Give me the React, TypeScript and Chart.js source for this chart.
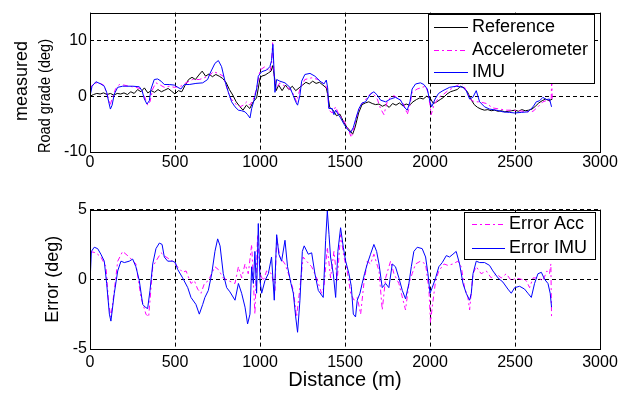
import React, { useEffect, useRef } from 'react';
import { Chart, registerables } from 'chart.js';

Chart.register(...registerables);

const FONT = "'Liberation Sans', Arial, Helvetica, sans-serif";

// ---------- axes ----------
const distRange = [0, 3000];
const distTicks = [0, 500, 1000, 1500, 2000, 2500, 3000];
const gradeRange = [-10, 15];
const gradeTicks = [-10, 0, 10];
const errorRange = [-5, 5];
const errorTicks = [-5, 0, 5];

// ---------- top plot: road grade (deg) ----------
const refDist = [0, 20, 40, 60, 80, 100, 120, 140, 160, 180, 200, 220, 240, 260, 280, 300, 320, 340, 360, 380, 400, 420, 440, 460, 480, 500, 520, 540, 560, 580, 600, 620, 640, 660, 680, 700, 720, 740, 760, 780, 800, 820, 840, 860, 880, 900, 920, 940, 960, 980, 1000, 1010, 1030, 1050, 1065, 1075, 1085, 1095, 1110, 1130, 1150, 1170, 1190, 1210, 1230, 1250, 1270, 1290, 1310, 1330, 1350, 1370, 1390, 1400, 1410, 1430, 1450, 1470, 1490, 1510, 1530, 1545, 1560, 1580, 1600, 1620, 1640, 1660, 1680, 1700, 1720, 1740, 1760, 1780, 1800, 1820, 1840, 1860, 1880, 1900, 1920, 1940, 1960, 1980, 2000, 2020, 2040, 2060, 2080, 2100, 2120, 2140, 2160, 2180, 2200, 2220, 2240, 2260, 2280, 2300, 2320, 2340, 2360, 2380, 2400, 2420, 2440, 2460, 2480, 2500, 2520, 2540, 2560, 2580, 2600, 2620, 2640, 2660, 2680, 2700, 2720];
const refGrade = [0, 0.3, 0.5, 0.4, 0.6, 0.3, 0.5, 0.2, 0.5, 0.4, 0.6, 0.3, 0.8, 0.5, 1.2, 0.8, 1.5, 0.6, 1.0, 0.7, 1.2, 0.8, 1.1, 1.4, 0.9, 0.4, 1.0, 0.8, 2.0, 3.0, 3.4, 3.0, 3.8, 4.5, 3.6, 4.0, 3.5, 3.9, 3.6, 3.2, 2.5, 1.2, 0.2, -1.0, -1.8, -2.5, -1.6, -2.2, -1.0, -0.3, 3.2, 3.6, 3.8, 4.2, 4.5, 5.5, 3.5, 1.0, 2.0, 1.0, 2.0, 1.2, 1.8, 1.0, 1.5, 2.0, 2.5, 2.2, 2.7, 2.3, 2.5, 2.0, 1.5, 0.0, -2.0, -2.5, -3.5, -3.2, -4.5, -5.5, -6.2, -6.8, -5.5, -3.0, -1.5, -1.2, -1.0, -1.3, -1.5, -1.4, -1.8, -1.5, -2.0, -1.3, -1.6, -1.2, -1.7, -1.4, -1.6, -1.0, -0.6, -0.3, -0.5, 0.0, -0.3, -1.3, -1.0, -0.6, -0.2, 0.4, 0.8, 1.0, 1.2, 1.8, 1.5, 0.8, -0.5, -1.5, -2.0, -2.3, -2.5, -2.4, -2.6, -2.5, -2.7, -2.6, -2.8, -2.7, -2.6, -2.5, -2.7, -2.4, -2.6, -2.5, -2.3, -1.8, -1.2, -0.8, -0.5, -0.8, -0.5];

const accDist = [0, 20, 40, 60, 80, 100, 118, 133, 150, 172, 200, 230, 270, 300, 320, 339, 353, 369, 388, 408, 437, 466, 496, 535, 564, 604, 643, 672, 692, 706, 725, 755, 784, 804, 823, 853, 882, 902, 922, 941, 961, 980, 1000, 1029, 1058, 1068, 1074, 1082, 1092, 1117, 1147, 1176, 1196, 1215, 1235, 1264, 1304, 1343, 1382, 1396, 1405, 1425, 1445, 1464, 1484, 1504, 1523, 1537, 1553, 1572, 1592, 1611, 1631, 1660, 1690, 1709, 1729, 1748, 1768, 1788, 1817, 1837, 1856, 1866, 1882, 1895, 1925, 1954, 1974, 1988, 2000, 2007, 2023, 2052, 2082, 2105, 2135, 2165, 2184, 2203, 2223, 2243, 2262, 2292, 2331, 2370, 2409, 2449, 2488, 2527, 2566, 2606, 2635, 2664, 2694, 2707, 2713, 2716, 2719];
const accGrade = [1.3, 2.3, 2.4, 2.3, 2.0, 0.5, -1.6, -0.2, 1.3, 2.1, 2.0, 1.8, 1.6, 1.3, 0.0, -1.6, -1.0, 1.3, 2.4, 2.1, 1.6, 1.8, 1.6, 1.8, 2.4, 3.0, 3.0, 3.3, 3.6, 3.8, 4.4, 4.1, 3.6, 1.6, -0.2, -1.3, -1.9, -1.6, -1.0, -1.6, -0.5, 1.3, 4.7, 5.3, 4.4, 5.9, 9.6, 4.0, 1.3, 2.4, 1.8, 1.3, 0.4, -1.0, 1.3, 3.0, 3.3, 3.0, 2.1, 1.3, -2.5, -3.0, -1.9, -3.3, -3.9, -5.0, -6.2, -7.4, -5.6, -3.3, -1.6, -1.0, -0.2, 0.7, -0.5, -2.2, -3.3, -1.0, -0.2, 0.1, -0.5, -1.0, -2.2, -3.3, -1.6, 0.7, 1.3, 1.6, 1.8, 0.7, -1.6, -3.3, -1.6, -0.2, 0.4, 1.0, 1.5, 2.0, 2.4, 1.6, 0.4, -0.7, -1.0, -1.0, -1.3, -2.1, -2.3, -2.5, -2.5, -2.6, -2.8, -2.7, -1.9, -1.0, -0.7, -1.0, -0.5, 3.5, -0.5];

const imuDist = [0, 12, 35, 64, 84, 98, 110, 120, 130, 143, 163, 192, 251, 290, 306, 320, 335, 349, 359, 378, 398, 418, 437, 466, 496, 516, 535, 555, 584, 623, 663, 692, 706, 735, 755, 774, 794, 814, 833, 853, 873, 892, 912, 927, 941, 951, 967, 980, 990, 1010, 1039, 1058, 1068, 1076, 1082, 1088, 1098, 1117, 1147, 1176, 1196, 1210, 1221, 1235, 1245, 1264, 1294, 1323, 1353, 1376, 1390, 1398, 1405, 1425, 1435, 1445, 1455, 1474, 1494, 1513, 1533, 1549, 1562, 1582, 1601, 1621, 1650, 1670, 1690, 1709, 1739, 1768, 1797, 1827, 1847, 1866, 1882, 1895, 1915, 1944, 1964, 1984, 2000, 2010, 2030, 2050, 2076, 2115, 2154, 2194, 2213, 2233, 2252, 2272, 2292, 2321, 2350, 2390, 2429, 2468, 2498, 2537, 2576, 2606, 2625, 2645, 2664, 2684, 2703, 2715];
const imuGrade = [0, 1.8, 2.6, 2.2, 1.8, 0.7, -1.0, -2.3, -1.6, 0.4, 1.6, 1.8, 1.8, 1.7, 1.0, -0.5, -1.4, -0.8, 1.3, 3.0, 3.1, 2.7, 2.1, 2.1, 2.0, 1.6, 1.3, 2.1, 2.1, 2.3, 2.4, 3.0, 4.1, 5.9, 6.4, 5.3, 2.7, 0.7, -1.0, -1.9, -2.5, -2.6, -2.8, -3.3, -3.9, -2.2, -0.5, 1.3, 3.6, 4.4, 4.7, 5.3, 6.4, 9.3, 5.0, 0.7, 3.0, 2.7, 2.4, 1.6, 0.1, -1.0, -1.6, 0.2, 2.7, 3.9, 4.1, 3.6, 2.7, 2.2, 2.9, 1.5, -2.2, -2.2, -3.3, -2.5, -3.0, -3.9, -5.0, -5.9, -6.5, -5.6, -4.2, -2.2, -1.2, -1.0, 0.4, 0.8, 0.2, -0.7, -1.0, -0.5, -0.2, -0.7, -1.9, -2.5, -1.0, 1.3, 2.2, 2.4, 2.1, 1.3, -1.0, -1.9, -0.5, 0.5, 1.0, 1.6, 1.8, 1.6, 1.0, -0.5, -0.2, 1.0, -1.0, -1.9, -2.3, -2.5, -2.8, -2.9, -3.0, -2.9, -2.8, -1.9, -1.0, -0.8, -0.2, -0.6, -0.5, -1.9];

// ---------- bottom plot: error (deg) ----------
const errAccDist = [0, 35, 64, 94, 110, 123, 143, 163, 192, 231, 270, 300, 329, 345, 369, 388, 418, 447, 486, 516, 545, 565, 594, 614, 633, 653, 673, 696, 735, 755, 784, 814, 853, 873, 892, 912, 931, 951, 970, 986, 1000, 1019, 1039, 1068, 1088, 1098, 1117, 1147, 1176, 1196, 1215, 1235, 1254, 1274, 1304, 1333, 1362, 1376, 1396, 1415, 1435, 1454, 1474, 1494, 1513, 1533, 1553, 1572, 1592, 1611, 1631, 1650, 1670, 1700, 1719, 1739, 1768, 1788, 1817, 1856, 1876, 1895, 1915, 1944, 1974, 1994, 2003, 2013, 2033, 2052, 2082, 2105, 2135, 2164, 2184, 2203, 2223, 2233, 2253, 2272, 2301, 2331, 2360, 2390, 2419, 2449, 2478, 2507, 2537, 2566, 2586, 2606, 2635, 2664, 2688, 2703, 2711, 2715];
const errAcc = [2.0, 1.9, 1.6, 0.9, -1.8, -2.7, -0.8, 1.3, 2.0, 1.6, 1.1, -1.3, -2.5, -2.7, 0.9, 1.3, 1.9, 1.6, 1.3, 0.9, 0.5, 0.6, -0.3, -0.1, -0.7, -1.0, -0.3, -0.1, 0.9, 0.7, 0.1, -0.1, -0.3, 0.9, 0.1, 1.1, 0.4, 2.5, -2.5, 3.2, 0.4, -0.1, 0.6, 0.4, -0.8, 3.0, 1.6, 1.1, 0.1, -0.8, -2.7, -0.6, 1.6, 1.3, 0.9, 0.1, -1.0, -0.6, 2.3, 0.1, 2.0, -0.1, 3.2, 1.6, 0.6, -1.0, -1.5, -1.3, -2.5, -0.3, 1.3, 1.1, 1.8, 0.6, -2.2, 0.1, 1.3, 0.4, -0.3, -2.2, -0.3, 0.4, 1.1, 1.3, 1.1, -0.8, -3.1, -2.0, -0.1, 0.6, 1.1, 1.0, 1.1, 1.3, 0.9, -0.6, -1.3, -2.2, 0.4, 0.9, 0.4, 0.6, 0.1, 0.4, 0.1, 0.4, -0.1, 0.1, 0.0, -0.1, -0.6, 0.1, 0.1, -0.1, 0.6, 0.4, 1.1, -2.7];

const errImuDist = [0, 8, 25, 45, 64, 84, 98, 114, 123, 143, 163, 182, 202, 231, 251, 270, 290, 310, 325, 339, 353, 369, 388, 408, 424, 437, 457, 486, 502, 516, 545, 575, 594, 623, 643, 663, 676, 696, 716, 735, 751, 765, 784, 804, 823, 853, 873, 892, 912, 927, 941, 951, 961, 970, 980, 990, 1000, 1010, 1029, 1049, 1068, 1084, 1098, 1111, 1127, 1147, 1162, 1182, 1196, 1210, 1221, 1235, 1249, 1260, 1284, 1304, 1323, 1343, 1372, 1386, 1396, 1406, 1415, 1431, 1445, 1458, 1474, 1490, 1504, 1523, 1537, 1549, 1562, 1572, 1588, 1601, 1615, 1631, 1650, 1670, 1686, 1700, 1719, 1739, 1758, 1778, 1797, 1817, 1837, 1856, 1876, 1890, 1905, 1925, 1954, 1974, 1988, 2000, 2013, 2033, 2052, 2072, 2096, 2115, 2135, 2154, 2174, 2194, 2213, 2233, 2243, 2253, 2272, 2292, 2321, 2350, 2370, 2400, 2429, 2458, 2478, 2498, 2527, 2556, 2576, 2596, 2615, 2635, 2655, 2674, 2694, 2707, 2715];
const errImu = [-0.3, 2.0, 2.3, 2.2, 1.8, 1.3, -0.3, -2.5, -3.0, -1.0, 0.6, 1.3, 1.2, 1.3, 1.45, 0.9, -0.1, -1.8, -2.0, -2.1, -0.8, 1.1, 2.2, 2.6, 2.5, 1.6, 1.3, 1.3, 1.2, 0.7, 0.1, -0.6, -1.3, -1.8, -2.5, -1.8, -1.3, -0.8, 0.4, 2.0, 2.9, 2.4, 0.4, -0.6, -0.9, -1.5, -0.3, -1.0, -2.0, -3.2, -2.5, 0.9, -0.3, 2.0, -1.0, 4.0, -0.1, -1.0, -0.1, 0.4, 1.6, -1.5, 3.2, 1.8, 1.3, 2.8, 0.9, -0.3, -1.0, -2.7, -3.8, -1.5, 2.0, 2.4, 1.8, 1.9, 0.4, -0.8, -1.3, 2.8, 4.9, 3.2, 1.6, 0.4, -1.3, 2.0, 3.7, 2.3, 1.3, 0.4, -0.5, -2.5, -2.7, -1.5, -1.0, -0.3, 0.4, 1.1, 1.8, 2.5, 2.0, 1.1, -0.6, -0.3, -0.6, 1.1, 0.9, 0.1, -0.8, -1.4, -0.3, 0.9, 2.0, 2.3, 2.2, 1.6, 0.4, -1.0, -0.6, 0.1, 0.9, 1.2, 1.7, 1.6, 1.8, 2.0, 1.1, -0.3, -1.0, -1.5, -1.0, 0.4, 1.3, 1.2, 1.2, 1.0, 0.6, 0.1, -0.2, -0.7, -1.0, -0.6, -0.5, -0.7, -1.0, -1.3, -0.3, 0.4, 0.5, 0.0, -0.3, -1.0, -2.0];

const BLACK = '#000000';
const MAGENTA = '#ff00ff';
const BLUE = '#0000ff';
const DASHDOT = [5, 3, 2, 3];

const zip = (xs: number[], ys: number[]) => xs.map((x, i) => ({ x, y: ys[i] }));

type Box = { x: number; y: number; w: number; h: number; rows: number[]; s0: number; s1: number; tx: number };
type TitleLine = { text: string; cx: number; cy: number; size: number; maxWidth?: number };

const framePlugin = {
  id: 'frame',
  afterDatasetsDraw(chart: any) {
    const { ctx, chartArea: a } = chart;
    const l = Math.round(a.left), r = Math.round(a.right), t = Math.round(a.top), b = Math.round(a.bottom);
    ctx.save();
    ctx.strokeStyle = '#000';
    ctx.lineWidth = 1;
    ctx.setLineDash([]);
    ctx.strokeRect(l + 0.5, t + 0.5, r - l, b - t);
    ctx.restore();
  },
};

const boxLegendPlugin = {
  id: 'boxLegend',
  afterDraw(chart: any, _args: any, opts: any) {
    const b: Box = opts.box;
    if (!b) return;
    const { ctx } = chart;
    ctx.save();
    ctx.fillStyle = '#fff';
    ctx.fillRect(b.x, b.y, b.w, b.h);
    ctx.strokeStyle = '#000';
    ctx.lineWidth = 1;
    ctx.setLineDash([]);
    ctx.strokeRect(b.x + 0.5, b.y + 0.5, b.w, b.h);
    chart.data.datasets.forEach((ds: any, i: number) => {
      const y = b.rows[i];
      ctx.beginPath();
      ctx.strokeStyle = ds.borderColor;
      ctx.lineWidth = 1;
      ctx.setLineDash(ds.borderDash || []);
      ctx.moveTo(b.s0, Math.round(y) + 0.5);
      ctx.lineTo(b.s1, Math.round(y) + 0.5);
      ctx.stroke();
      ctx.setLineDash([]);
      ctx.fillStyle = '#000';
      ctx.font = `18px ${FONT}`;
      ctx.textAlign = 'left';
      ctx.textBaseline = 'middle';
      ctx.fillText(ds.label, b.tx, y);
    });
    ctx.restore();
  },
};

const yTitlePlugin = {
  id: 'yTitleLines',
  afterDraw(chart: any, _args: any, opts: any) {
    const lines: TitleLine[] = opts.lines || [];
    const { ctx } = chart;
    lines.forEach((l) => {
      ctx.save();
      ctx.translate(l.cx, l.cy);
      ctx.rotate(-Math.PI / 2);
      ctx.fillStyle = '#000';
      ctx.font = `${l.size}px ${FONT}`;
      ctx.textAlign = 'center';
      ctx.textBaseline = 'middle';
      if (l.maxWidth) ctx.fillText(l.text, 0, 0, l.maxWidth);
      else ctx.fillText(l.text, 0, 0);
      ctx.restore();
    });
  },
};

function makeConfig(p: {
  datasets: any[];
  yRange: number[];
  yTicks: number[];
  xTickPad: number;
  xTitle?: string;
  yTitle?: string;
  box: Box;
  titleLines?: TitleLine[];
}): any {
  const tickFont = { family: FONT, size: 16 };
  return {
    type: 'line',
    data: { datasets: p.datasets },
    plugins: [framePlugin, boxLegendPlugin, yTitlePlugin],
    options: {
      responsive: false,
      animation: false,
      events: [],
      layout: { padding: { top: 9, right: 31, left: 0, bottom: 0 } },
      elements: { point: { radius: 0 }, line: { tension: 0, borderWidth: 1 } },
      plugins: {
        legend: { display: false },
        tooltip: { enabled: false },
        boxLegend: { box: p.box },
        yTitleLines: { lines: p.titleLines || [] },
      },
      scales: {
        x: {
          type: 'linear',
          min: distRange[0],
          max: distRange[1],
          afterBuildTicks: (s: any) => { s.ticks = distTicks.map((v) => ({ value: v })); },
          afterFit: (s: any) => { s.height = 45; },
          ticks: { color: '#000', font: tickFont, padding: p.xTickPad, maxRotation: 0, autoSkip: false, callback: (v: any) => String(v) },
          grid: { color: '#000', lineWidth: 1, drawTicks: false },
          border: { display: false, dash: [4, 3] },
          title: p.xTitle
            ? { display: true, text: p.xTitle, color: '#000', font: { family: FONT, size: 20 }, padding: { top: 0, bottom: 2 } }
            : { display: false },
        },
        y: {
          type: 'linear',
          min: p.yRange[0],
          max: p.yRange[1],
          afterBuildTicks: (s: any) => { s.ticks = p.yTicks.map((v) => ({ value: v })); },
          afterFit: (s: any) => { s.width = 90; },
          ticks: { color: '#000', font: tickFont, padding: 3, autoSkip: false, callback: (v: any) => String(v) },
          grid: { color: '#000', lineWidth: 1, drawTicks: false },
          border: { display: false, dash: [4, 3] },
          title: p.yTitle
            ? { display: true, text: p.yTitle, color: '#000', font: { family: FONT, size: 18 }, padding: { top: 42, bottom: 0 } }
            : { display: false },
        },
      },
    },
  };
}

function ChartCanvas({ config }: { config: () => any }) {
  const ref = useRef<HTMLCanvasElement | null>(null);
  useEffect(() => {
    if (!ref.current) return;
    const chart = new Chart(ref.current, config());
    return () => chart.destroy();
  }, []);
  return <canvas ref={ref} width={631} height={197} style={{ display: 'block', width: 631, height: 197 }} />;
}

const topConfig = () =>
  makeConfig({
    datasets: [
      { label: 'Reference', data: zip(refDist, refGrade), borderColor: BLACK, borderWidth: 1, order: 2 },
      { label: 'Accelerometer', data: zip(accDist, accGrade), borderColor: MAGENTA, borderWidth: 1, borderDash: DASHDOT, order: 1 },
      { label: 'IMU', data: zip(imuDist, imuGrade), borderColor: BLUE, borderWidth: 1, order: 0 },
    ],
    yRange: gradeRange,
    yTicks: gradeTicks,
    xTickPad: 1,
    box: { x: 428, y: 14, w: 166, h: 69, rows: [26.7, 50, 71.7], s0: 434, s1: 468, tx: 472 },
    titleLines: [
      { text: 'measured', cx: 22, cy: 81, size: 18 },
      { text: 'Road grade (deg)', cx: 45, cy: 96, size: 17, maxWidth: 114 },
    ],
  });

const bottomConfig = () =>
  makeConfig({
    datasets: [
      { label: 'Error Acc', data: zip(errAccDist, errAcc), borderColor: MAGENTA, borderWidth: 1, borderDash: DASHDOT, order: 1 },
      { label: 'Error IMU', data: zip(errImuDist, errImu), borderColor: BLUE, borderWidth: 1, order: 0 },
    ],
    yRange: errorRange,
    yTicks: errorTicks,
    xTickPad: 4,
    xTitle: 'Distance (m)',
    yTitle: 'Error (deg)',
    box: { x: 464, y: 15, w: 131, h: 47, rows: [27.3, 50.7], s0: 472, s1: 505, tx: 509 },
  });

export default function App() {
  return (
    <div style={{ position: 'fixed', left: 0, top: 0, width: 631, height: 394, background: '#fff' }}>
      <ChartCanvas config={topConfig} />
      <ChartCanvas config={bottomConfig} />
    </div>
  );
}
